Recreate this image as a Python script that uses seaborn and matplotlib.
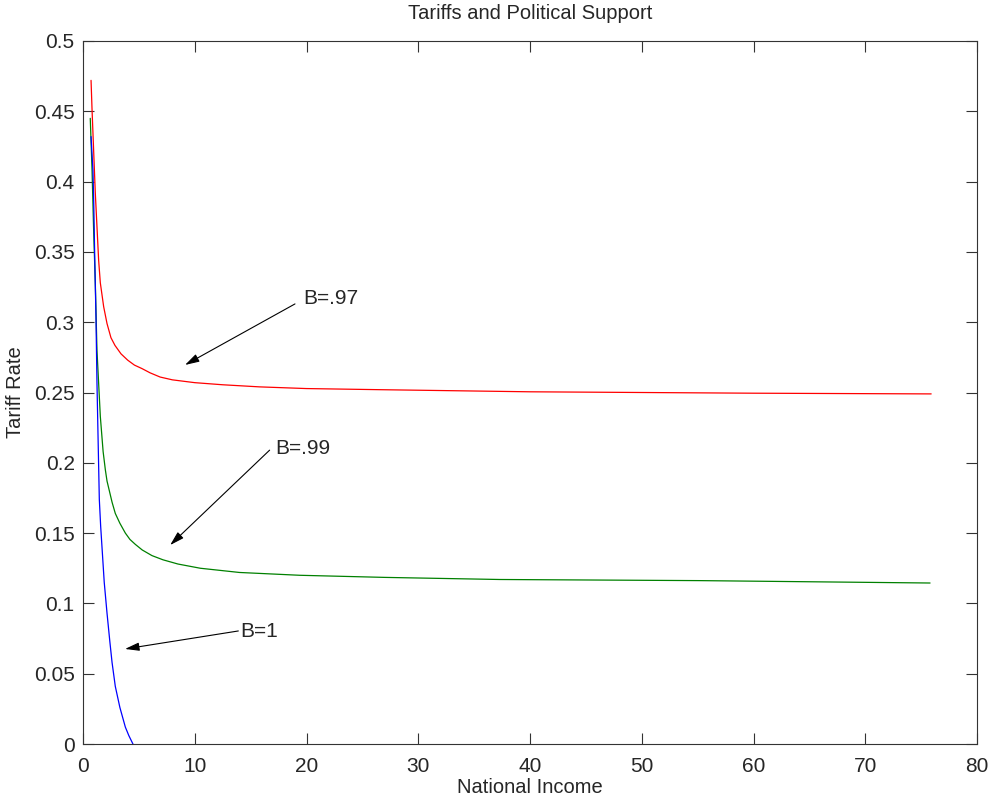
import numpy as np
import pandas as pd
import matplotlib
matplotlib.use("Agg")
import matplotlib.pyplot as plt
import seaborn as sns

# values (national income vs tariff rate)
red_x = [0.72, 0.81, 1.10, 1.40, 1.55, 1.85, 2.15, 2.5, 2.86, 3.4, 4.0, 4.6, 5.28, 6.0, 6.9, 8.0,
         10.0, 12.5, 15.8, 20, 26.6, 40, 60, 75.9]
red_y = [0.472, 0.451, 0.392, 0.344, 0.328, 0.311, 0.299, 0.289, 0.2835, 0.2775, 0.273, 0.2695, 0.267,
         0.264, 0.261, 0.259, 0.257, 0.2555, 0.254, 0.2528, 0.252, 0.2505, 0.2495, 0.249]

green_x = [0.65, 0.81, 0.96, 1.10, 1.25, 1.55, 1.8, 2.0, 2.15, 2.6, 2.89, 3.3, 3.79, 4.2, 4.68, 5.3,
           6.17, 7.16, 8.5, 10.5, 14, 19.4, 27, 37.3, 55.2, 75.8]
green_y = [0.445, 0.408, 0.363, 0.328, 0.280, 0.233, 0.208, 0.195, 0.187, 0.172, 0.164, 0.157, 0.150,
           0.1455, 0.142, 0.138, 0.134, 0.131, 0.128, 0.125, 0.122, 0.120, 0.1185, 0.117, 0.1162, 0.1145]

blue_x = [0.72, 0.89, 0.96, 1.05, 1.16, 1.25, 1.34, 1.46, 1.58, 1.70, 1.9, 2.15, 2.4, 2.6, 2.89,
          3.3, 3.79, 4.1, 4.47]
blue_y = [0.432, 0.408, 0.385, 0.346, 0.304, 0.257, 0.221, 0.174, 0.155, 0.140, 0.115, 0.093, 0.073,
          0.058, 0.041, 0.026, 0.012, 0.006, 0.0]

series = ["B=.97", "B=.99", "B=1"]
colors = ["#ff0000", "#008000", "#0000ff"]

# annotation: label, text position, arrow start, arrow tip
notes = [
    ("B=.97", (19.7, 0.317), (18.97, 0.313), (9.13, 0.2696)),
    ("B=.99", (17.2, 0.2105), (16.7, 0.209), (7.8, 0.1415)),
    ("B=1", (14.05, 0.0797), (13.9, 0.0804), (3.76, 0.0676)),
]


def main():
    df = pd.concat([
        pd.DataFrame({"income": red_x, "tariff": red_y, "B": series[0]}),
        pd.DataFrame({"income": green_x, "tariff": green_y, "B": series[1]}),
        pd.DataFrame({"income": blue_x, "tariff": blue_y, "B": series[2]}),
    ], ignore_index=True)

    sns.set_style("ticks")
    plt.rcParams['font.family'] = ['Liberation Sans', 'DejaVu Sans']

    fig = plt.figure(figsize=(9.9, 8), dpi=100)
    fig.subplots_adjust(left=83/990, right=977/990, top=1-41/800, bottom=1-744/800)
    ax = fig.add_subplot(111)

    sns.lineplot(data=df, x="income", y="tariff", hue="B", palette=dict(zip(series, colors)),
                 sort=False, estimator=None, legend=False, linewidth=0.9, ax=ax)

    ax.set_xlim(0, 80)
    ax.set_ylim(0, 0.5)
    ax.set_xticks(np.arange(0, 81, 10))
    ax.set_yticks(np.arange(0, 0.51, 0.05))
    ax.set_yticklabels(["0", "0.05", "0.1", "0.15", "0.2", "0.25", "0.3", "0.35", "0.4", "0.45", "0.5"])
    ax.tick_params(direction="in", length=8, width=0.8, color="#333333", labelsize=15,
                   top=True, right=True)
    ax.tick_params(axis="x", pad=9)
    ax.tick_params(axis="y", pad=6)
    for s in ax.spines.values():
        s.set_visible(True)
        s.set_color("#333333")
        s.set_linewidth(0.8)

    ax.set_title("Tariffs and Political Support", fontsize=14.5, pad=16)
    ax.set_xlabel("National Income", fontsize=14.5, labelpad=2)
    ax.set_ylabel("Tariff Rate", fontsize=14.5, labelpad=6)

    for label, tpos, start, tip in notes:
        ax.annotate("", xy=tip, xytext=start,
                    arrowprops=dict(arrowstyle="-|>,head_length=0.86,head_width=0.25",
                                    color="black", lw=0.8, shrinkA=0, shrinkB=0,
                                    mutation_scale=10))
        ax.text(tpos[0], tpos[1], label, fontsize=15, ha="left", va="center")

    fig.savefig("out.png", dpi=100)


if __name__ == "__main__":
    main()
